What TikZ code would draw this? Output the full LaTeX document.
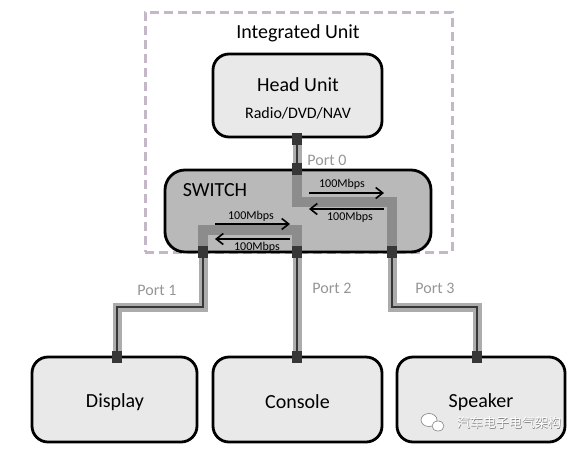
\documentclass[tikz,border=0pt]{standalone}
\usepackage{fontspec}
\setmainfont{Carlito}
\newfontfamily\cjkfont{Noto Sans CJK SC}
\usetikzlibrary{arrows.meta}
\definecolor{boxfill}{RGB}{233,233,233}
\definecolor{swfill}{RGB}{185,185,185}
\definecolor{dashc}{RGB}{196,184,200}
\definecolor{lanein}{RGB}{140,140,140}
\definecolor{cablegrey}{RGB}{172,172,172}
\definecolor{cabledark}{RGB}{55,55,55}
\definecolor{porttxt}{RGB}{150,150,150}
\tikzset{
  unitbox/.style={draw=black,line width=2.8pt,fill=boxfill,rounded corners=16pt,inner sep=0pt},
  bigtxt/.style={font=\fontsize{20}{24}\selectfont,inner sep=0pt},
  midtxt/.style={font=\fontsize{16}{19}\selectfont,inner sep=0pt},
  porttext/.style={font=\fontsize{16}{19}\selectfont,text=porttxt,inner sep=0pt},
  ratetxt/.style={font=\fontsize{12}{14}\selectfont,inner sep=0pt},
  cable/.style={draw=cabledark,line width=2.8pt,preaction={draw=cablegrey,line width=9pt}},
  lane/.style={draw=lanein,line width=10pt},
  portsq/.style={fill=cabledark,minimum width=10pt,minimum height=12pt,inner sep=0pt},
  flow/.style={draw=black,line width=1.8pt,-{Straight Barb[length=7pt,width=11pt,line width=1.6pt]}},
}
\begin{document}
\begin{tikzpicture}[x=1pt,y=-1pt]
\useasboundingbox[fill=white] (0,0) rectangle (583,450);

% integrated unit frame
\node[draw=dashc,line width=3pt,dash pattern=on 9pt off 5pt,minimum width=307pt,minimum height=240pt,inner sep=0pt] (integ) at (298.5,132) {};
\node[bigtxt] (integT) at (298,33) {Integrated Unit};

% head unit
\node[unitbox,minimum width=169pt,minimum height=83pt] (head) at (297.5,95.5) {};
\node[bigtxt] (headT) at (298,85) {Head Unit};
\node[midtxt] (headS) at (298,113) {Radio/DVD/NAV};

% switch
\node[draw=black,line width=2.8pt,fill=swfill,rounded corners=20pt,minimum width=266pt,minimum height=82pt,inner sep=0pt] (switch) at (298,211) {};
\node[bigtxt] (swT) at (215,190) {SWITCH};

% end devices
\node[unitbox,minimum width=165pt,minimum height=85pt] (display) at (114.5,399.5) {};
\node[bigtxt] (displayT) at (115,402) {Display};
\node[unitbox,minimum width=169pt,minimum height=85pt] (console) at (297.5,399.5) {};
\node[bigtxt] (consoleT) at (297.5,402) {Console};
\node[unitbox,minimum width=168pt,minimum height=85pt] (speaker) at (481,399.5) {};
\node[bigtxt] (speakerT) at (481,402) {Speaker};

% port coordinates
\coordinate (h0) at (297,139);
\coordinate (s0) at (297,169);
\coordinate (s1) at (203,252);
\coordinate (s2) at (297,252);
\coordinate (s3) at (392,252);
\coordinate (d1) at (117,357);
\coordinate (d2) at (297,357);
\coordinate (d3) at (477,357);
\coordinate (a1) at (297,202);
\coordinate (a2) at (392,202);
\coordinate (b1) at (203,230);
\coordinate (b2) at (297,230);
\coordinate (c1) at (203,307);
\coordinate (c2) at (117,307);
\coordinate (e1) at (392,307);
\coordinate (e2) at (477,307);

% lanes inside the switch
\draw[lane] (s0) -- (a1) -- (a2) -- (s3);
\draw[lane] (s1) -- (b1) -- (b2) -- (s2);

% cables
\draw[cable] (h0) -- (s0);
\draw[cable] (s1) -- (c1) -- (c2) -- (d1);
\draw[cable] (s2) -- (d2);
\draw[cable] (s3) -- (e1) -- (e2) -- (d3);

% port squares
\node[portsq] (q0a) at (h0) {};
\node[portsq] (q0b) at (s0) {};
\node[portsq] (q1a) at (s1) {};
\node[portsq] (q2a) at (s2) {};
\node[portsq] (q3a) at (s3) {};
\node[portsq] (q1b) at (d1) {};
\node[portsq] (q2b) at (d2) {};
\node[portsq] (q3b) at (d3) {};

% port labels
\node[porttext] (pl0) at (327,160) {Port 0};
\node[porttext] (pl1) at (157,290) {Port 1};
\node[porttext] (pl2) at (332,288) {Port 2};
\node[porttext] (pl3) at (435,288) {Port 3};

% traffic arrows
\coordinate (r1a) at (309,193);
\coordinate (r1b) at (384,193);
\coordinate (r2a) at (384,209);
\coordinate (r2b) at (309,209);
\coordinate (l1a) at (215,224);
\coordinate (l1b) at (290,224);
\coordinate (l2a) at (290,239);
\coordinate (l2b) at (215,239);
\draw[flow] (r1a) -- (r1b);
\draw[flow] (r2a) -- (r2b);
\draw[flow] (l1a) -- (l1b);
\draw[flow] (l2a) -- (l2b);
\node[ratetxt] (rt1) at (342,184) {100Mbps};
\node[ratetxt] (rt2) at (350,217) {100Mbps};
\node[ratetxt] (rt3) at (251,216) {100Mbps};
\node[ratetxt] (rt4) at (257,247) {100Mbps};

% watermark
\draw[gray,line width=0.6pt,fill=white] (429,420) ellipse [x radius=8pt,y radius=6.5pt];
\draw[gray,line width=0.6pt,fill=white] (438,426) ellipse [x radius=6pt,y radius=5pt];
\node[font=\cjkfont\fontsize{13}{15}\selectfont,text=gray,inner sep=0pt] (wms) at (509.7,423.7) {汽车电子电气架构};
\node[font=\cjkfont\fontsize{13}{15}\selectfont,text=white,inner sep=0pt] (wm) at (509,423) {汽车电子电气架构};
\end{tikzpicture}
\end{document}
